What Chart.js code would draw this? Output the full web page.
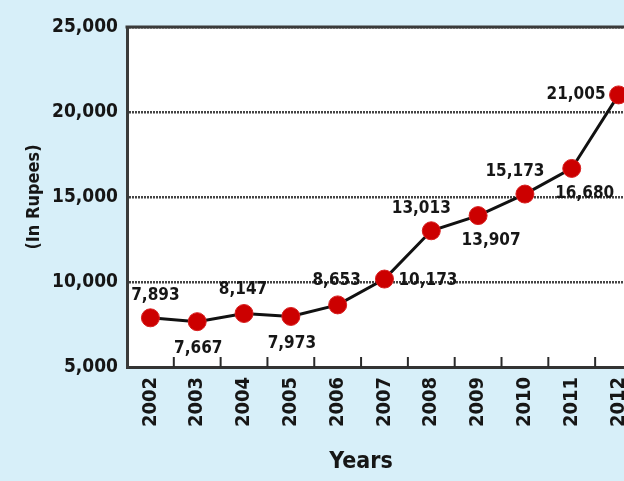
<!DOCTYPE html>
<html>
<head>
<meta charset="utf-8">
<script src="https://cdn.jsdelivr.net/npm/chart.js@4"></script>
<style>
  html, body { margin: 0; padding: 0; overflow: hidden; background: #d7eff9; }
  #chart { display: block; }
</style>
</head>
<body>
<canvas id="chart" width="653" height="481" style="width:653px;height:481px;"></canvas>
<script>
const years = ['2002', '2003', '2004', '2005', '2006', '2007', '2008', '2009', '2010', '2011', '2012'];
const incomeValues = [7893, 7667, 8147, 7973, 8653, 10173, 13013, 13907, 15173, 16680, 21005];
const labelPlacement = ['aboveRight', 'below', 'above', 'below', 'above', 'right', 'aboveLeft', 'belowRight', 'aboveLeft', 'belowRight', 'left'];
const yTicks = [5000, 10000, 15000, 20000, 25000];

const FONT = '"DejaVu Sans Condensed", "DejaVu Sans", sans-serif';
const INK = '#161616';

const placements = {
    above: { dx: -1, dy: -24, align: 'center' },
    aboveRight: { dx: 5, dy: -22, align: 'center' },
    below: { dx: 1, dy: 27, align: 'center' },
    right: { dx: 14, dy: 2, align: 'left' },
    left: { dx: -13, dy: 0, align: 'right' },
    aboveLeft: { dx: -10, dy: -22, align: 'center' },
    belowRight: { dx: 13, dy: 25, align: 'center' }
};

const decorations = {
    id: 'decorations',
    beforeDraw(chart) {
        const { ctx, chartArea } = chart;
        ctx.save();
        ctx.fillStyle = '#d7eff9';
        ctx.fillRect(0, 0, chart.width, chart.height);
        ctx.fillStyle = '#ffffff';
        ctx.fillRect(chartArea.left, chartArea.top, chartArea.right - chartArea.left, chartArea.bottom - chartArea.top);
        ctx.restore();
    },
    afterDraw(chart) {
        const { ctx, chartArea } = chart;
        const xScale = chart.scales.x;
        const meta = chart.getDatasetMeta(0);
        ctx.save();

        // solid top frame
        ctx.strokeStyle = '#3a3a3a';
        ctx.lineWidth = 3;
        ctx.beginPath();
        ctx.moveTo(chartArea.left - 1.5, chartArea.top);
        ctx.lineTo(chartArea.right, chartArea.top);
        ctx.stroke();

        // small inward ticks between years
        const step = xScale.getPixelForValue(1) - xScale.getPixelForValue(0);
        ctx.lineWidth = 2;
        ctx.strokeStyle = '#2a2a2a';
        for (let i = 0; i < years.length; i++) {
            const x = xScale.getPixelForValue(i) + step / 2;
            ctx.beginPath();
            ctx.moveTo(x, chartArea.bottom);
            ctx.lineTo(x, chartArea.bottom - 10);
            ctx.stroke();
        }

        // value labels
        ctx.fillStyle = INK;
        ctx.font = 'bold 17px ' + FONT;
        ctx.textBaseline = 'middle';
        meta.data.forEach((pt, i) => {
            const p = placements[labelPlacement[i]];
            ctx.textAlign = p.align;
            ctx.fillText(incomeValues[i].toLocaleString('en-US'), pt.x + p.dx, pt.y + p.dy);
        });

        // axis title under the years
        ctx.font = 'bold 23px ' + FONT;
        ctx.textAlign = 'center';
        ctx.fillText('Years', 361, 462);
        ctx.restore();
    }
};

new Chart(document.getElementById('chart'), {
    type: 'line',
    data: {
        labels: years,
        datasets: [{
            data: incomeValues,
            borderColor: '#111111',
            borderWidth: 3,
            tension: 0,
            pointRadius: 9,
            pointBackgroundColor: '#cc0000',
            pointBorderColor: '#d82020',
            pointBorderWidth: 1
        }]
    },
    options: {
        responsive: false,
        animation: false,
        layout: { padding: { top: 27, right: 4, left: 0, bottom: 0 } },
        plugins: {
            legend: { display: false },
            tooltip: { enabled: false }
        },
        scales: {
            x: {
                type: 'category',
                offset: true,
                grid: { display: false, drawTicks: false },
                border: { display: true, color: '#333333', width: 3 },
                ticks: {
                    color: INK,
                    font: { family: FONT, size: 20, weight: 'bold' },
                    minRotation: 90,
                    maxRotation: 90,
                    padding: 10
                },
                afterFit(scale) { scale.height = 114; }
            },
            y: {
                min: yTicks[0],
                max: yTicks[yTicks.length - 1],
                afterBuildTicks(scale) { scale.ticks = yTicks.map(v => ({ value: v })); },
                grid: {
                    drawTicks: false,
                    color: ctx => (ctx.tick && (ctx.tick.value === yTicks[0])) ? 'rgba(0,0,0,0)' : '#444444',
                    lineWidth: 2.5
                },
                border: { display: true, color: '#3a3a3a', width: 3, dash: [2, 1] },
                ticks: {
                    color: INK,
                    font: { family: FONT, size: 19, weight: 'bold' },
                    padding: 9,
                    callback: v => v.toLocaleString('en-US')
                },
                title: {
                    display: true,
                    text: '(In Rupees)',
                    color: INK,
                    font: { family: FONT, size: 18, weight: 'bold' },
                    padding: { top: 24, bottom: 0 }
                },
                afterFit(scale) { scale.width = 127; }
            }
        }
    },
    plugins: [decorations]
});
</script>
</body>
</html>
